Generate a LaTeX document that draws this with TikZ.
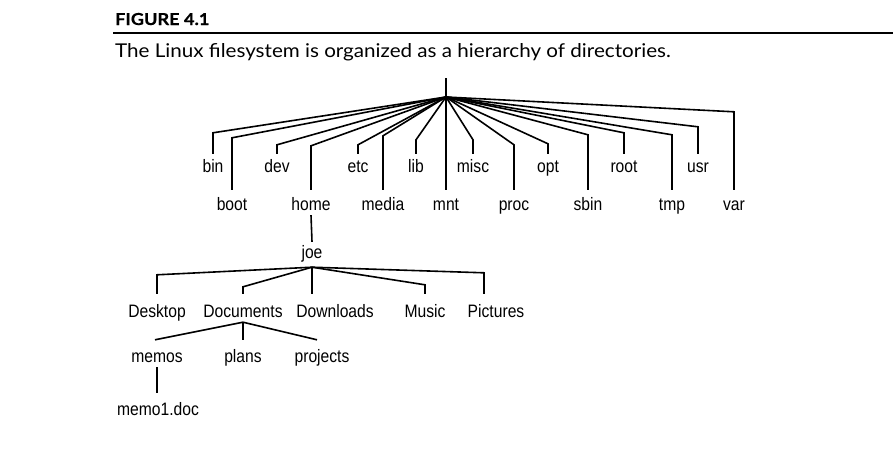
\documentclass[tikz,border=0pt]{standalone}
\usepackage{fontspec}
\setmainfont{Liberation Sans}
\newfontfamily\lblfont[FakeStretch=0.87]{Liberation Sans}
\newfontfamily\capfont[FakeStretch=1.085]{Lato}
\newfontfamily\titlefont[FakeStretch=1.1,FakeBold=0.6]{Lato Bold}
\begin{document}
\begin{tikzpicture}[x=1pt,y=-1pt,
  conn/.style={line width=1.6pt, line join=miter, line cap=butt},
  lbl/.style={font=\lblfont\fontsize{18}{18}\selectfont, anchor=base,
    text height=#1pt, text depth=0pt, inner xsep=0pt, inner ysep=5pt},
  lbl/.default=13,
  figtitle/.style={font=\titlefont\fontsize{16.5}{16.5}\selectfont, anchor=base west, inner sep=0pt},
  figcap/.style={font=\capfont\fontsize{19}{19}\selectfont, anchor=base west, inner sep=0pt}]
\useasboundingbox (0,0) rectangle (893,450);

% header
\node[figtitle] (title) at (115,25) {FIGURE 4.1};
\coordinate (rl) at (113,32.5);
\coordinate (rr) at (893,32.5);
\draw[line width=2pt] (rl) -- (rr);
\node[figcap] (cap) at (115,57) {The Linux filesystem is organized as a hierarchy of directories.};

% root
\coordinate (rt) at (446,78);
\coordinate (h) at (446,97);
\draw[conn] (rt) -- (h);

% level 1, top row
\node[lbl=13] (bin)  at (213,172) {bin};
\node[lbl=13] (dev)  at (277,172) {dev};
\node[lbl=13] (etc)  at (358,172) {etc};
\node[lbl=13] (lib)  at (416,172) {lib};
\node[lbl=13] (misc) at (473,172) {misc};
\node[lbl=13] (opt)  at (548,172) {opt};
\node[lbl=13] (root) at (624,172) {root};
\node[lbl=13] (usr)  at (698,172) {usr};
% level 1, bottom row
\node[lbl=15] (boot)  at (232,210) {boot};
\node[lbl=15] (home)  at (311,210) {home};
\node[lbl=15] (media) at (383,210) {media};
\node[lbl=15] (mnt)   at (446,210) {mnt};
\node[lbl=15] (proc)  at (514,210) {proc};
\node[lbl=15] (sbin)  at (588,210) {sbin};
\node[lbl=15] (tmp)   at (672,210) {tmp};
\node[lbl=15] (var)   at (734,210) {var};

\draw[conn] (h) -- ([yshift=21pt]bin.north) -- (bin.north);
\draw[conn] (h) -- ([yshift=52pt]boot.north) -- (boot.north);
\draw[conn] (h) -- ([yshift=9pt]dev.north) -- (dev.north);
\draw[conn] (h) -- ([yshift=44pt]home.north) -- (home.north);
\draw[conn] (h) -- ([yshift=9pt]etc.north) -- (etc.north);
\draw[conn] (h) -- ([yshift=54pt]media.north) -- (media.north);
\draw[conn] (h) -- ([yshift=14pt]lib.north) -- (lib.north);
\draw[conn] (h) -- (mnt.north);
\draw[conn] (h) -- ([yshift=14pt]misc.north) -- (misc.north);
\draw[conn] (h) -- ([yshift=45pt]proc.north) -- (proc.north);
\draw[conn] (h) -- ([yshift=10pt]opt.north) -- (opt.north);
\draw[conn] (h) -- ([yshift=55pt]sbin.north) -- (sbin.north);
\draw[conn] (h) -- ([yshift=21pt]root.north) -- (root.north);
\draw[conn] (h) -- ([yshift=55pt]tmp.north) -- (tmp.north);
\draw[conn] (h) -- ([yshift=27pt]usr.north) -- (usr.north);
\draw[conn] (h) -- ([yshift=78pt]var.north) -- (var.north);

% joe
\node[lbl=11, text depth=4pt] (joe) at (312,258) {joe};
\draw[conn] (home.south) -- (joe.north);

% level 2
\node[lbl=18] (desk) at (157,317) {Desktop};
\node[lbl=18] (docs) at (243,317) {Documents};
\node[lbl=18] (down) at (335,317) {Downloads};
\node[lbl=18] (music) at (425,317) {Music};
\node[lbl=18] (pics) at (496,317) {Pictures};

\draw[conn] (joe.south) -- ([yshift=19pt]desk.north) -- (desk.north);
\draw[conn] (joe.south) -- ([yshift=7pt]docs.north) -- (docs.north);
\draw[conn] (joe.south) -- (joe.south |- down.north);
\draw[conn] (joe.south) -- ([yshift=9pt]music.north) -- (music.north);
\draw[conn] (joe.south) -- ([xshift=-12pt,yshift=21pt]pics.north) -- ([xshift=-12pt]pics.north);

% level 3
\node[lbl=17] (memos) at (157,362) {memos};
\node[lbl=17] (plans) at (243,362) {plans};
\node[lbl=17] (proj)  at (322,362) {projects};

\draw[conn] (docs.south) -- ([xshift=-2pt]memos.north);
\draw[conn] (docs.south) -- (plans.north);
\draw[conn] (docs.south) -- ([xshift=-5pt]proj.north);

% level 4
\node[lbl=17] (memo1) at (158,415) {memo1.doc};
\draw[conn] (memos.south) -- (memos.south |- memo1.north);
\end{tikzpicture}
\end{document}
